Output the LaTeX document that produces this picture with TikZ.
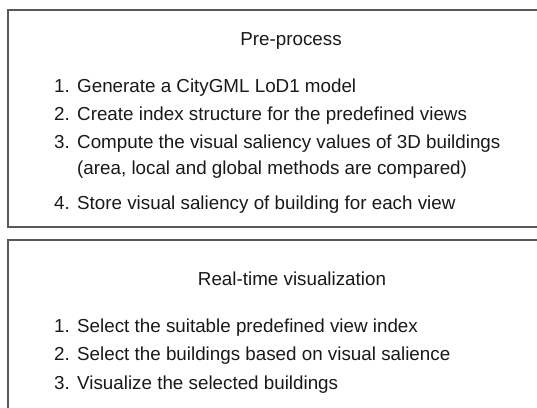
\documentclass[tikz,border=0pt]{standalone}
\usepackage{fontspec}
\setmainfont{Liberation Sans}
\begin{document}
\begin{tikzpicture}[x=1pt,y=-1pt,
  panel/.style={draw=black!65, line width=1.2pt},
  txt/.style={inner sep=0pt, text=black!90, font=\fontsize{18.8}{22}\selectfont},
  title/.style={txt, anchor=base},
  num/.style={txt, anchor=base west},
  entry/.style={txt, anchor=base west}]
\useasboundingbox (0,0) rectangle (537,407);
\clip (0,0) rectangle (537,407);

% pre-processing panel
\draw[panel] (8,10) rectangle (580,227);
\node[title] (pre) at (291,45) {Pre-process};
\node[num]   (p1n) at (54,92)  {1.};
\node[entry] (p1)  at (77,92)  {Generate a CityGML LoD1 model};
\node[num]   (p2n) at (54,120) {2.};
\node[entry] (p2)  at (77,120) {Create index structure for the predefined views};
\node[num]   (p3n) at (54,148) {3.};
\node[entry] (p3)  at (77,148) {Compute the visual saliency values of 3D buildings};
\node[entry] (p3b) at (77,174) {(area, local and global methods are compared)};
\node[num]   (p4n) at (54,209) {4.};
\node[entry] (p4)  at (77,209) {Store visual saliency of building for each view};

% real-time panel
\draw[panel] (8,240) rectangle (580,430);
\node[title] (rt) at (292,285) {Real-time visualization};
\node[num]   (r1n) at (54,332) {1.};
\node[entry] (r1)  at (77,332) {Select the suitable predefined view index};
\node[num]   (r2n) at (54,360) {2.};
\node[entry] (r2)  at (77,360) {Select the buildings based on visual salience};
\node[num]   (r3n) at (54,389) {3.};
\node[entry] (r3)  at (77,389) {Visualize the selected buildings};
\end{tikzpicture}
\end{document}
